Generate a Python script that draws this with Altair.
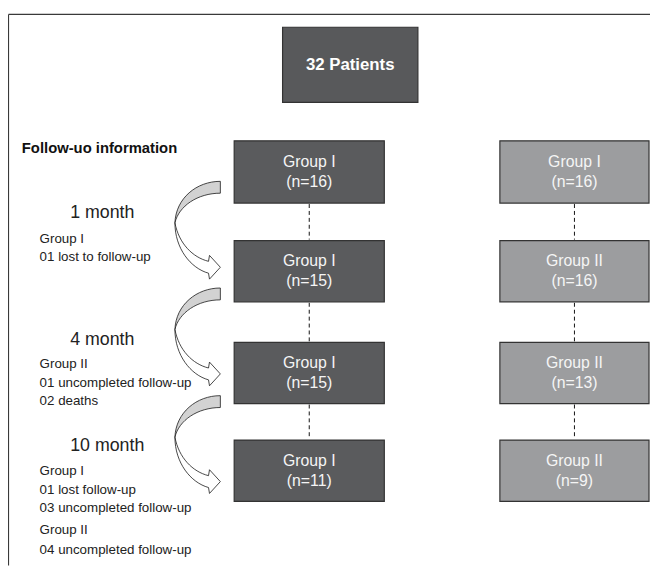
import altair as alt
import pandas as pd

# ---------------- data ----------------
total_label = "32 Patients"
panel_title = "Follow-uo information"
col1_groups = ["Group I", "Group I", "Group I", "Group I"]
col1_n = [16, 15, 15, 11]
col2_groups = ["Group I", "Group II", "Group II", "Group II"]
col2_n = [16, 16, 13, 9]
interval_labels = ["1 month", "4 month", "10 month"]
interval_notes = [
    ["Group I", "01 lost to follow-up"],
    ["Group II", "01 uncompleted follow-up", "02 deaths"],
    ["Group I", "01 lost follow-up", "03 uncompleted follow-up",
     "Group II", "04 uncompleted follow-up"],
]

# ---------------- layout (page pixel coordinates) ----------------
row_top = [139, 240, 343, 442]
row_bot = [202, 302, 405, 504]
col_x = [(237, 389), (506, 657)]
col_fill = ["#5a5b5d", "#9c9d9f"]
top_box = (286, 423, 24, 100)
interval_y = [212, 341, 448]
notes_y = [[238, 257], [365, 384, 402], [473, 493, 511, 533, 553]]
arrow_y = [229, 337, 446]
arrow_x = 200

XD = [8, 658]
YD = [8, 569]


def xq(f):
    return alt.X(f, type="quantitative", scale=alt.Scale(domain=XD, nice=False, zero=False), axis=None)


def yq(f):
    return alt.Y(f, type="quantitative",
                 scale=alt.Scale(domain=YD, nice=False, zero=False, reverse=True), axis=None)


# boxes
box_rows = [dict(x=top_box[0], x2=top_box[1], y=top_box[2], y2=top_box[3], fill="#58595b")]
lab_rows = [dict(x=(top_box[0] + top_box[1]) / 2, y=(top_box[2] + top_box[3]) / 2, t=total_label)]
grp_rows = []
dash_rows = []
for ci, (groups, ns) in enumerate([(col1_groups, col1_n), (col2_groups, col2_n)]):
    x0, x1 = col_x[ci]
    cx = (x0 + x1) / 2
    for ri in range(4):
        box_rows.append(dict(x=x0, x2=x1, y=row_top[ri], y2=row_bot[ri], fill=col_fill[ci]))
        cy = (row_top[ri] + row_bot[ri]) / 2
        grp_rows.append(dict(x=cx, y=cy - 10, t=groups[ri]))
        grp_rows.append(dict(x=cx, y=cy + 10, t=f"(n={ns[ri]})"))
        if ri < 3:
            dash_rows.append(dict(x=cx, y=row_bot[ri] + 1, y2=row_top[ri + 1] - 1))

boxes = alt.Chart(pd.DataFrame(box_rows)).mark_rect(stroke="#333333", strokeWidth=1.2).encode(
    x=xq("x"), x2=alt.X2("x2"), y=yq("y"), y2=alt.Y2("y2"),
    color=alt.Color("fill:N", scale=None),
)

dashes = alt.Chart(pd.DataFrame(dash_rows)).mark_rule(
    color="#111111", strokeWidth=1, strokeDash=[4, 3]).encode(
    x=xq("x"), y=yq("y"), y2=alt.Y2("y2"))

frame = alt.Chart(pd.DataFrame([
    dict(x=8.5, x2=8.5, y=11, y2=569),
    dict(x=8.5, x2=658, y=11, y2=11),
])).mark_rule(color="#3a3a3a", strokeWidth=1.2).encode(
    x=xq("x"), x2=alt.X2("x2"), y=yq("y"), y2=alt.Y2("y2"))

total_text = alt.Chart(pd.DataFrame(lab_rows)).mark_text(
    font="Liberation Sans", fontSize=17, fontWeight="bold", color="white",
    align="center", baseline="middle").encode(x=xq("x"), y=yq("y"), text="t:N")

group_text = alt.Chart(pd.DataFrame(grp_rows)).mark_text(
    font="Liberation Sans", fontSize=16, color="#f5f5f5",
    align="center", baseline="middle").encode(x=xq("x"), y=yq("y"), text="t:N")

title_text = alt.Chart(pd.DataFrame([dict(x=22, y=146, t=panel_title)])).mark_text(
    font="Liberation Sans", fontSize=15, fontWeight="bold", color="#111111",
    align="left", baseline="middle").encode(x=xq("x"), y=yq("y"), text="t:N")

interval_text = alt.Chart(pd.DataFrame(
    [dict(x=71, y=interval_y[i], t=interval_labels[i]) for i in range(3)])).mark_text(
    font="Liberation Sans", fontSize=18, color="#222222",
    align="left", baseline="middle").encode(x=xq("x"), y=yq("y"), text="t:N")

note_rows = []
for i, notes in enumerate(interval_notes):
    for j, t in enumerate(notes):
        note_rows.append(dict(x=40, y=notes_y[i][j], t=t))
notes_text = alt.Chart(pd.DataFrame(note_rows)).mark_text(
    font="Liberation Sans", fontSize=13.5, color="#222222",
    align="left", baseline="middle").encode(x=xq("x"), y=yq("y"), text="t:N")


# curved arrow glyphs as custom symbol paths (design drawn in a 98px box)
def glyph(cmds, cx=200.0, cy=229.0, half=49.0):
    out = []
    for op, pts in cmds:
        s = op
        for (px, py) in pts:
            s += f" {(px - cx) / half:.4f} {(py - cy) / half:.4f}"
        out.append(s)
    return " ".join(out)


crescent = glyph([
    ("M", [(223, 180)]),
    ("C", [(199, 180), (178, 197), (177, 222)]),
    ("C", [(181, 205), (200, 192), (223, 192)]),
    ("Z", []),
])
arrow_tail = glyph([
    ("M", [(177, 222)]),
    ("C", [(177, 248), (193, 268), (211, 273)]),
    ("L", [(212, 279)]),
    ("L", [(223, 267)]),
    ("L", [(212, 255)]),
    ("L", [(211, 261)]),
    ("C", [(195, 257), (181, 243), (177, 222)]),
    ("Z", []),
])

arrow_df = pd.DataFrame([dict(x=arrow_x, y=y) for y in arrow_y])
arrow_gray = alt.Chart(arrow_df).mark_point(
    shape=crescent, filled=True, fill="#d2d2d2", stroke="#1a1a1a", strokeWidth=0.8,
    size=9604, opacity=1).encode(x=xq("x"), y=yq("y"))
arrow_white = alt.Chart(arrow_df).mark_point(
    shape=arrow_tail, filled=True, fill="#ffffff", stroke="#1a1a1a", strokeWidth=0.8,
    size=9604, opacity=1).encode(x=xq("x"), y=yq("y"))

chart = alt.layer(
    frame, dashes, boxes, total_text, group_text, title_text, interval_text, notes_text,
    arrow_white, arrow_gray,
).properties(
    width=650, height=561, padding=0, autosize=alt.AutoSizeParams(type="none"),
    background="white",
).configure_view(stroke=None)

chart.save("out.html", embed_options={"renderer": "svg", "actions": False})
